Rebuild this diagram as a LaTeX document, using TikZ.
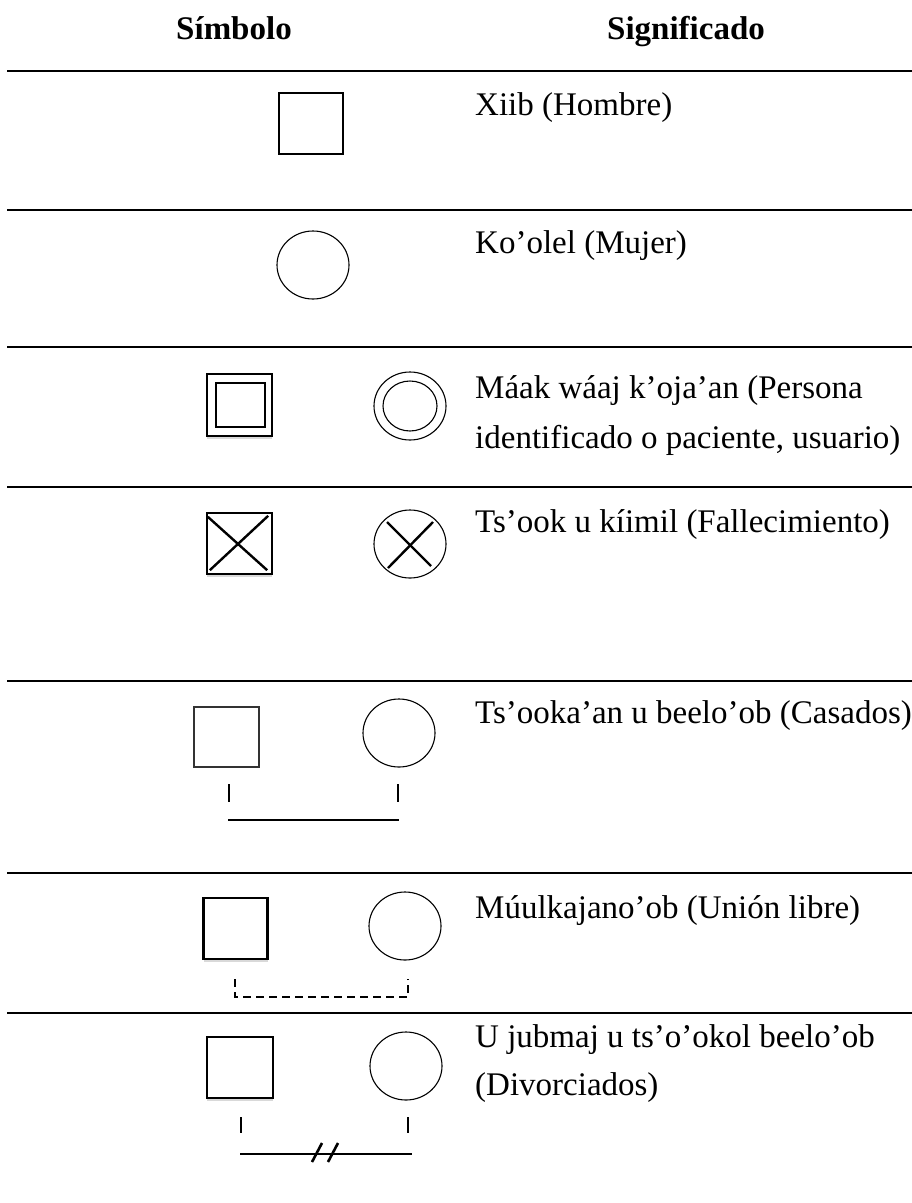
\documentclass[tikz,border=0pt]{standalone}
\usepackage{fontspec}
\setmainfont{Liberation Serif}
\usetikzlibrary{shapes.geometric}
\usetikzlibrary{shadows}
\usetikzlibrary{calc}
\tikzset{>=latex}
\tikzset{
  rule/.style={line width=2.6pt},
  txt/.style={anchor=base west, inner sep=0pt, font=\fontsize{33}{40}\selectfont},
  head/.style={anchor=base, inner sep=0pt, font=\fontsize{33}{40}\selectfont\bfseries},
  thinbox/.style={draw, rectangle, line width=1.1pt, inner sep=0pt, minimum width=64pt, minimum height=61pt},
  thickbox/.style={thinbox, line width=2.4pt, fill=white,
    drop shadow={shadow xshift=0pt, shadow yshift=-3pt, opacity=0.15, fill=black}},
  woman/.style={draw, ellipse, line width=1.1pt, inner sep=0pt, minimum width=72pt, minimum height=68pt},
  crossline/.style={line width=2.4pt},
  tick/.style={line width=2.6pt}
}

\begin{document}
\begin{tikzpicture}[x=1pt, y=-1pt]
  \useasboundingbox (0,0) rectangle (912,1203);
  % headers
  \node[head] (hsym) at (234,39) {Símbolo};
  \node[head] (hsig) at (686,39) {Significado};
  % rules
  \foreach \y in {71,210,347,487,681,873,1013}
    \draw[rule] (7,\y) -- (912,\y);

  % hombre
  \node[thinbox] (m1) at (311,123.5) {};
  \node[txt] (t1) at (475,115) {Xiib (Hombre)};
  % mujer
  \node[woman] (w2) at (313,265) {};
  \node[txt] (t2) at (475,253) {Ko’olel (Mujer)};

  % paciente
  \node[thickbox, minimum width=65pt, minimum height=62pt] (m3) at (239.5,405) {};
  \node[draw, rectangle, line width=2pt, inner sep=0pt, minimum width=49pt, minimum height=44pt] (m3i) at (240.5,405) {};
  \node[woman] (w3) at (410,406) {};
  \node[draw, ellipse, line width=1.1pt, inner sep=0pt, minimum width=54pt, minimum height=50pt] (w3i) at (410,406) {};
  \node[txt] (t3a) at (475,398) {Máak wáaj k’oja’an (Persona};
  \node[txt] (t3b) at (475,448) {identificado o paciente, usuario)};

  % fallecimiento
  \node[thickbox, minimum width=65pt, minimum height=61pt] (m4) at (239.5,543.5) {};
  \draw[crossline] ($(m4.north west)+(2,5)$) -- ($(m4.south east)+(-6,-5)$);
  \draw[crossline] ($(m4.north east)+(-5,4)$) -- ($(m4.south west)+(4,-5)$);
  \node[woman] (w4) at (410,544) {};
  \draw[crossline] ($(w4.center)+(-23,-22)$) -- ($(w4.center)+(21,22)$);
  \draw[crossline] ($(w4.center)+(23,-22)$) -- ($(w4.center)+(-22,24)$);
  \node[txt] (t4) at (475,532) {Ts’ook u kíimil (Fallecimiento)};

  % casados
  \node[thinbox, line width=1.3pt, draw=black!80, minimum width=65pt, minimum height=60pt] (m5) at (226.5,737) {};
  \node[woman] (w5) at (399,733) {};
  \coordinate (a5) at (229,784);
  \coordinate (b5) at (398,784);
  \draw[tick] (a5) -- ++(0,18);
  \draw[tick] (b5) -- ++(0,18);
  \draw[tick] ($(a5)+(-1,36)$) -- ($(b5)+(1,36)$);
  \node[txt] (t5) at (475,723) {Ts’ooka’an u beelo’ob (Casados)};

  % union libre
  \node[thickbox] (m6) at (235.5,928.5) {};
  \node[woman] (w6) at (405,926) {};
  \coordinate (a6) at (235,979);
  \coordinate (b6) at (408,979);
  \draw[line width=2.2pt, dash pattern=on 8pt off 5pt] (a6) -- ++(0,18) -| (b6);
  \node[txt] (t6) at (475,918) {Múulkajano’ob (Unión libre)};

  % divorciados
  \node[thickbox, minimum width=66pt] (m7) at (240,1067.5) {};
  \node[woman] (w7) at (406,1066) {};
  \coordinate (a7) at (241,1117);
  \coordinate (b7) at (408,1117);
  \draw[tick] (a7) -- ++(0,16);
  \draw[tick] (b7) -- ++(0,16);
  \draw[tick] ($(a7)+(-1,37)$) -- ($(b7)+(4,37)$);
  \draw[tick] (312,1162) -- (322,1143);
  \draw[tick] (328,1162) -- (338,1143);
  \node[txt] (t7a) at (475,1047) {U jubmaj u ts’o’okol beelo’ob};
  \node[txt] (t7b) at (475,1095) {(Divorciados)};
\end{tikzpicture}
\end{document}
